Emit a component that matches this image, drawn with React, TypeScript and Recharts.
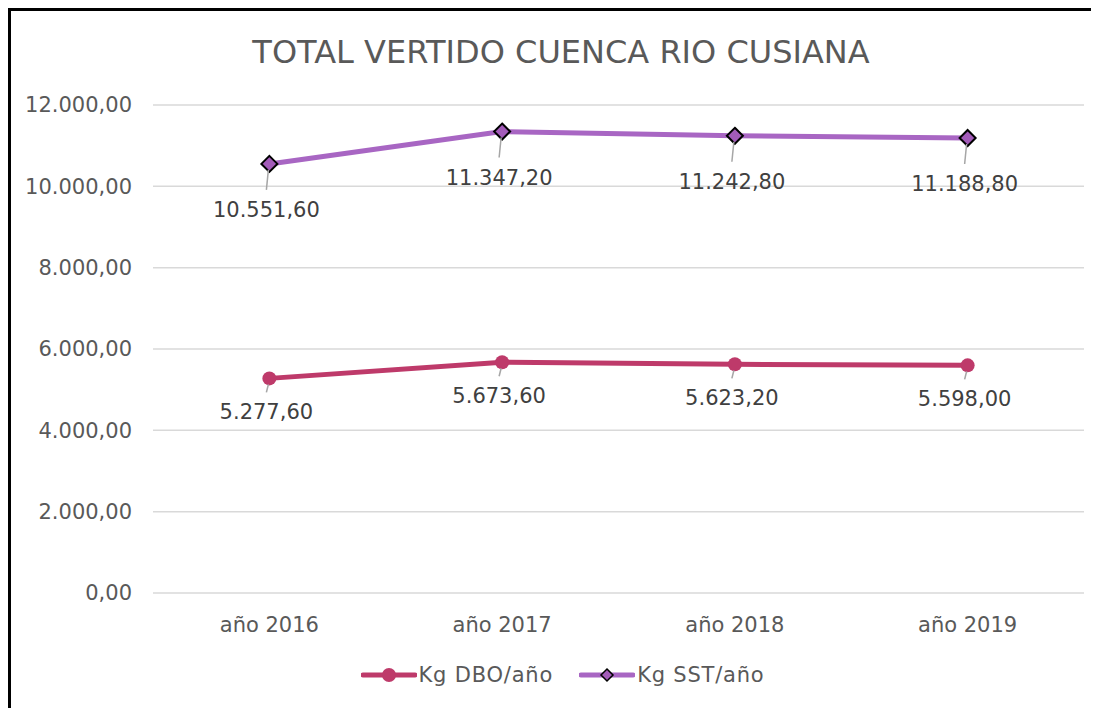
import React from "react";
import { LineChart, Line, XAxis, YAxis, CartesianGrid, Legend, LabelList } from "recharts";

const years = ["año 2016", "año 2017", "año 2018", "año 2019"];
const dbo = [5277.6, 5673.6, 5623.2, 5598.0];
const sst = [10551.6, 11347.2, 11242.8, 11188.8];
const yTicks = [0, 2000, 4000, 6000, 8000, 10000, 12000];

const DBO_COLOR = "#BE3A6A";
const SST_COLOR = "#A866C3";
const FONT = "'DejaVu Sans', sans-serif";

const data = years.map((name, i) => ({ name, dbo: dbo[i], sst: sst[i] }));

// 12.000,00 style
const fmt = (v: number) => {
  const [int, dec] = v.toFixed(2).split(".");
  return int.replace(/\B(?=(\d{3})+(?!\d))/g, ".") + "," + dec;
};

const makeLabel = (dy: number) => (props: any) => {
  const { x, y, value } = props;
  return (
    <g>
      <line x1={x - 1} y1={y + 6} x2={x - 3} y2={y + dy - 20} stroke="#A6A6A6" strokeWidth={1.5} />
      <text x={x - 3} y={y + dy + 7} textAnchor="middle" fontSize={21} fontFamily={FONT} fill="#404040">
        {fmt(value)}
      </text>
    </g>
  );
};

const CircleDot = (props: any) => {
  const { cx, cy } = props;
  return <circle cx={cx} cy={cy} r={7} fill={DBO_COLOR} />;
};

const DiamondDot = (props: any) => {
  const { cx, cy } = props;
  const s = 8;
  return (
    <path
      d={`M${cx},${cy - s} L${cx + s},${cy} L${cx},${cy + s} L${cx - s},${cy} Z`}
      fill="#A35BB9"
      stroke="#000"
      strokeWidth={2}
    />
  );
};

const LegendContent = () => (
  <div
    style={{
      display: "flex",
      justifyContent: "center",
      fontFamily: FONT,
      fontSize: 21,
      letterSpacing: 0.8,
      color: "#595959",
    }}
  >
    <div style={{ display: "flex", alignItems: "center", marginRight: 26 }}>
      <svg width={56} height={20}>
        <line x1={2} y1={10} x2={54} y2={10} stroke={DBO_COLOR} strokeWidth={5} strokeLinecap="round" />
        <circle cx={28} cy={10} r={7} fill={DBO_COLOR} />
      </svg>
      <span style={{ marginLeft: 2 }}>Kg DBO/año</span>
    </div>
    <div style={{ display: "flex", alignItems: "center" }}>
      <svg width={56} height={20}>
        <line x1={2} y1={10} x2={54} y2={10} stroke={SST_COLOR} strokeWidth={5} strokeLinecap="round" />
        <path d="M28,4 L34,10 L28,16 L22,10 Z" fill="#A35BB9" stroke="#000" strokeWidth={1.5} />
      </svg>
      <span style={{ marginLeft: 2 }}>Kg SST/año</span>
    </div>
  </div>
);

export default function App() {
  return (
    <div
      style={{
        position: "relative",
        width: 1100,
        height: 720,
        borderTop: "3px solid #000",
        borderLeft: "3px solid #000",
        boxSizing: "border-box",
        background: "#fff",
      }}
    >
      <style>{`html,body{overflow:hidden}`}</style>
      <div
        style={{
          position: "absolute",
          left: 0,
          width: 1100,
          top: 22,
          textAlign: "center",
          fontFamily: FONT,
          fontSize: 32,
          color: "#595959",
        }}
      >
        TOTAL VERTIDO CUENCA RIO CUSIANA
      </div>
      <LineChart width={1079} height={697} data={data} margin={{ top: 94, right: 6, left: 0, bottom: 0 }}>
        <CartesianGrid vertical={false} stroke="#D9D9D9" strokeWidth={1.5} />
        <XAxis
          dataKey="name"
          scale="band"
          axisLine={false}
          tickLine={false}
          tickMargin={18}
          height={91}
          tick={{ fontSize: 21, fontFamily: FONT, fill: "#595959" }}
        />
        <YAxis
          domain={[0, 12000]}
          ticks={yTicks}
          axisLine={false}
          tickLine={false}
          width={142}
          tickMargin={15}
          tickFormatter={fmt}
          tick={{ fontSize: 21, fontFamily: FONT, fill: "#595959" }}
        />
        <Legend
          content={<LegendContent />}
          wrapperStyle={{ position: "absolute", top: 652, left: 12, width: 1079 }}
        />
        <Line
          dataKey="dbo"
          name="Kg DBO/año"
          stroke={DBO_COLOR}
          strokeWidth={5}
          dot={<CircleDot />}
          activeDot={false}
          isAnimationActive={false}
        >
          <LabelList dataKey="dbo" content={makeLabel(34)} />
        </Line>
        <Line
          dataKey="sst"
          name="Kg SST/año"
          stroke={SST_COLOR}
          strokeWidth={5}
          dot={<DiamondDot />}
          activeDot={false}
          isAnimationActive={false}
        >
          <LabelList dataKey="sst" content={makeLabel(46)} />
        </Line>
      </LineChart>
    </div>
  );
}
